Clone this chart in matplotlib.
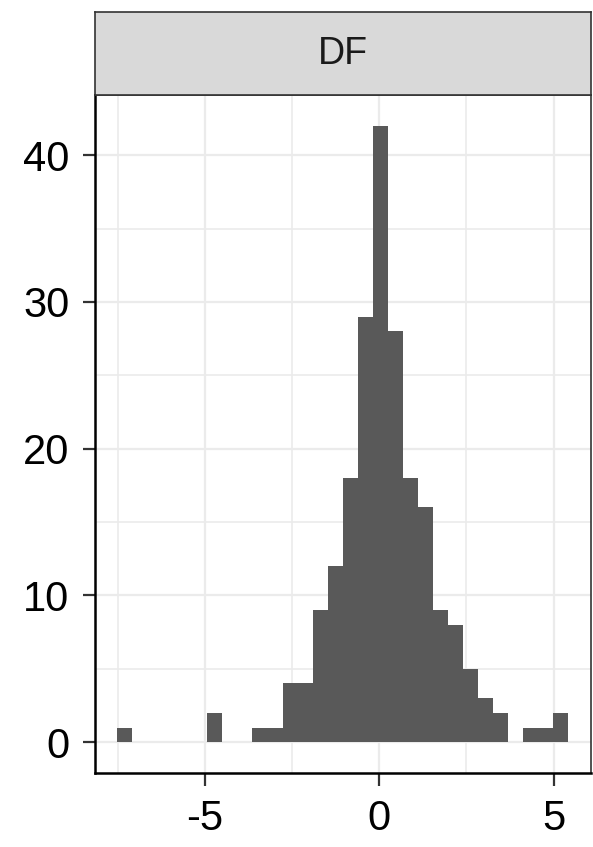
import matplotlib
matplotlib.use("Agg")
import matplotlib.pyplot as plt
import numpy as np

# ---- data ----
panel_label = "DF"
first_bin_center = -7.304
bin_width = 0.4316
counts = [1, 0, 0, 0, 0, 0, 2, 0, 0, 1,
          1, 4, 4, 9, 12, 18, 29, 42, 28, 18,
          16, 9, 8, 5, 3, 2, 0, 1, 1, 2]
x_ticks = [-5, 0, 5]
x_minor = [-7.5, -2.5, 2.5]
y_ticks = [0, 10, 20, 30, 40]
y_minor = [5, 15, 25, 35]

plt.rcParams['font.family'] = ['Liberation Sans', 'DejaVu Sans']

W, H = 593, 847
fig = plt.figure(figsize=(W / 100, H / 100), dpi=100)

pl, pr, pt, pb = 94.5, 591, 95, 773
st_top = 12
ax = fig.add_axes([pl / W, 1 - pb / H, (pr - pl) / W, (pb - pt) / H])
sax = fig.add_axes([pl / W, 1 - pt / H, (pr - pl) / W, (pt - st_top) / H])

centers = first_bin_center + bin_width * np.arange(len(counts))
ax.bar(centers, counts, width=bin_width, color="#595959", linewidth=0, zorder=3)

xmin = centers[0] - bin_width / 2
xmax = centers[-1] + bin_width / 2
xr = xmax - xmin
ax.set_xlim(xmin - 0.05 * xr, xmax + 0.05 * xr)
ymax = max(counts)
ax.set_ylim(-0.05 * ymax, ymax * 1.05)

ax.set_xticks(x_ticks)
ax.set_xticklabels([str(v) for v in x_ticks])
ax.set_xticks(x_minor, minor=True)
ax.set_yticks(y_ticks)
ax.set_yticks(y_minor, minor=True)

ax.grid(True, which='major', color='#ebebeb', linewidth=1.6, zorder=0)
ax.grid(True, which='minor', color='#ebebeb', linewidth=1.2, zorder=0)
ax.set_axisbelow(True)

ax.tick_params(axis='x', which='major', length=9, width=1.6, color='#333333',
               labelsize=30, labelcolor='black', pad=10)
ax.tick_params(axis='y', which='major', length=9, width=1.6, color='#333333',
               labelsize=30, labelcolor='black', pad=9)
ax.tick_params(axis='both', which='minor', length=0)

for s in ['top', 'right']:
    ax.spines[s].set_color('#333333')
    ax.spines[s].set_linewidth(1.2)
for s in ['left', 'bottom']:
    ax.spines[s].set_color('black')
    ax.spines[s].set_linewidth(1.8)

sax.set_facecolor('#d9d9d9')
sax.set_xticks([])
sax.set_yticks([])
for s in sax.spines.values():
    s.set_color('#333333')
    s.set_linewidth(1.2)
sax.text(0.5, 0.5, panel_label, ha='center', va='center', fontsize=27,
         color='#1a1a1a', transform=sax.transAxes)

fig.savefig("out.png", dpi=100)
